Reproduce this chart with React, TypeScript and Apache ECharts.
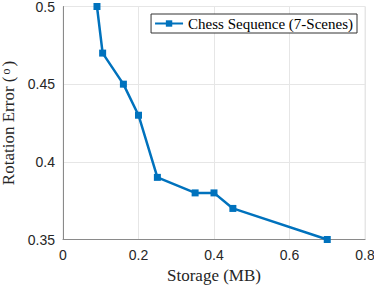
import React, { useEffect, useRef } from "react";
import * as echarts from "echarts";

const storage = [0.09, 0.105, 0.16, 0.2, 0.25, 0.35, 0.4, 0.45, 0.7];
const rotationError = [0.5, 0.47, 0.45, 0.43, 0.39, 0.38, 0.38, 0.37, 0.35];
const seriesName = "Chess Sequence (7-Scenes)";

const SERIF = "Liberation Serif";
const SANS = "Liberation Sans";

export default function App() {
  const ref = useRef<HTMLDivElement>(null);
  useEffect(() => {
    const chart = echarts.init(ref.current!, null, { renderer: "svg" });
    const tickFont = { fontFamily: SANS, fontSize: 14, color: "#262626" };
    chart.setOption({
      animation: false,
      grid: {
        left: 63,
        right: 9,
        top: 6.5,
        bottom: 45.5,
        containLabel: false,
        outerBoundsMode: "none",
        show: true,
        borderColor: "#e6e6e6",
        borderWidth: 1,
      },
      legend: {
        show: true,
        right: 17,
        top: 14,
        orient: "horizontal",
        backgroundColor: "#ffffff",
        borderColor: "#333333",
        borderWidth: 1,
        borderRadius: 0,
        padding: [2, 4, 2, 3],
        itemWidth: 28,
        itemHeight: 8,
        itemGap: 4,
        textStyle: { fontFamily: SERIF, fontSize: 15, color: "#000" },
        data: [{ name: seriesName }],
      },
      xAxis: {
        type: "value",
        min: 0,
        max: 0.8,
        interval: 0.2,
        name: "Storage (MB)",
        nameLocation: "middle",
        nameGap: 27,
        nameTextStyle: { fontFamily: SERIF, fontSize: 17, color: "#262626", verticalAlign: "top", lineHeight: 17 },
        axisLine: { show: true, lineStyle: { color: "#8a8a8a", width: 1 } },
        axisTick: { show: false },
        axisLabel: { ...tickFont, margin: 8 },
        splitLine: { show: true, lineStyle: { color: "#e6e6e6", width: 1 } },
      },
      yAxis: {
        type: "value",
        min: 0.35,
        max: 0.5,
        interval: 0.05,
        name: "{t|Rotation Error (}{s|o}{t|)}",
        nameLocation: "middle",
        nameGap: 41,
        nameTextStyle: {
          rich: {
            t: { fontFamily: SERIF, fontSize: 17, color: "#262626", lineHeight: 17 },
            s: { fontFamily: SERIF, fontSize: 12, color: "#262626", verticalAlign: "top", padding: [0, 2, 4, 2] },
          },
        },
        axisLine: { show: true, lineStyle: { color: "#8a8a8a", width: 1 } },
        axisTick: { show: false },
        axisLabel: { ...tickFont, margin: 8, formatter: (v: number) => String(parseFloat(v.toFixed(2))) },
        splitLine: { show: true, lineStyle: { color: "#e6e6e6", width: 1 } },
      },
      series: [
        {
          name: seriesName,
          type: "line",
          data: storage.map((x, i) => [x, rotationError[i]]),
          symbol: "rect",
          symbolSize: 7,
          lineStyle: { color: "#0072BD", width: 2.5 },
          itemStyle: { color: "#0072BD" },
        },
      ],
    });
    return () => chart.dispose();
  }, []);
  return <div ref={ref} style={{ width: 374, height: 285, position: "absolute", left: 0, top: 0 }} />;
}
